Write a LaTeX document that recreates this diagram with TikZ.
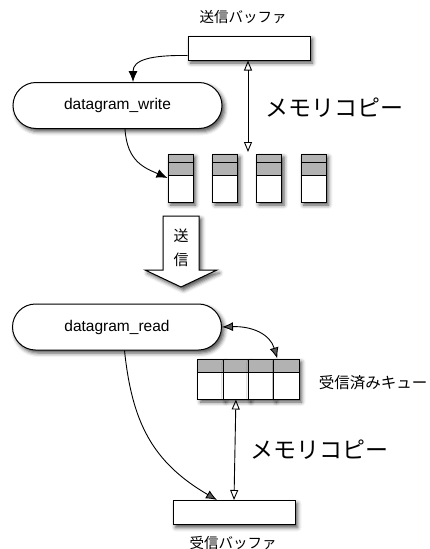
\documentclass[tikz,border=0pt]{standalone}
\usepackage{fontspec}
\setmainfont{Liberation Sans}
\newfontfamily\jp{Noto Sans CJK JP}
\usetikzlibrary{arrows.meta,shadows.blur}

\begin{document}
\begin{tikzpicture}[x=1pt,y=-1pt,
  softshadow/.style={blur shadow={shadow xshift=2.5pt,shadow yshift=-3pt,
      shadow blur radius=4pt,shadow opacity=70}},
  box/.style={draw,line width=1pt,fill=white,softshadow,inner sep=0pt},
  buffer/.style={box,minimum width=122pt,minimum height=24pt},
  pill/.style={box,minimum width=209pt,minimum height=46pt,rounded corners=23pt,
      font=\fontsize{15.5}{18}\selectfont},
  stackbox/.style={box,minimum width=25pt,minimum height=48pt,
      path picture={
        \fill[gray!60] (path picture bounding box.north west) rectangle
             ([yshift=-21pt]path picture bounding box.north east);
        \draw[line width=0.9pt] ([yshift=-8pt]path picture bounding box.north west) --
             ([yshift=-8pt]path picture bounding box.north east);
        \draw[line width=0.9pt] ([yshift=-21pt]path picture bounding box.north west) --
             ([yshift=-21pt]path picture bounding box.north east);}},
  cell/.style={box,minimum width=25.25pt,minimum height=40pt,
      path picture={
        \fill[gray!60] (path picture bounding box.north west) rectangle
             ([yshift=-13pt]path picture bounding box.north east);
        \draw[line width=0.9pt] ([yshift=-13pt]path picture bounding box.north west) --
             ([yshift=-13pt]path picture bounding box.north east);}},
  small/.style={font=\jp\fontsize{14.5}{17}\selectfont,inner sep=0pt},
  big/.style={font=\jp\fontsize{23}{26}\selectfont,inner sep=0pt},
  flow/.style={line width=0.9pt,-{Latex[length=11pt,width=9pt]}},
  both/.style={line width=0.9pt,{Latex[length=11pt,width=9pt]}-{Latex[length=11pt,width=9pt]}},
  copy/.style={line width=0.9pt,{Triangle[open,length=10pt,width=8pt]}-{Triangle[open,length=10pt,width=8pt]}}
]
\useasboundingbox (0,0) rectangle (429,549);

% send side
\node[buffer] (sb) at (249,48) {};
\node[small] (sblabel) at (243,17) {送信バッファ};
\node[pill] (dw) at (117.5,105.5) {datagram\_write};
\node[big] (copy1) at (334,108) {メモリコピー};

\node[stackbox] (s1) at (180.5,178) {};
\node[stackbox] (s2) at (225,178) {};
\node[stackbox] (s3) at (269,178) {};
\node[stackbox] (s4) at (313.5,178) {};
\coordinate (gap) at (248,152);

\draw[flow] ([yshift=5pt]sb.south west) .. controls (150,55) and (133,60) .. ([xshift=15.5pt]dw.north);
\draw[flow] ([xshift=7.5pt]dw.south) .. controls (127,162) and (145,168) .. (s1.west);
\draw[copy] ([xshift=-1pt]sb.south) -- (gap);

% transmission arrow
\path[draw,line width=1pt,fill=white,softshadow]
  (163,216) -- (199,216) -- (199,270) -- (217,270) -- (181,287) -- (145,270) -- (163,270) -- cycle;
\node[font=\jp\fontsize{15}{18}\selectfont,inner sep=0pt] (send1) at (181,236) {送};
\node[font=\jp\fontsize{15}{18}\selectfont,inner sep=0pt] (send2) at (181,260) {信};

% receive side
\node[pill] (dr) at (117,327) {datagram\_read};
\node[cell] (q1) at (210.6,379) {};
\node[cell] (q2) at (235.9,379) {};
\node[cell] (q3) at (261.1,379) {};
\node[cell] (q4) at (286.4,379) {};
\node[font=\jp\fontsize{15.5}{18}\selectfont,inner sep=0pt] (qlabel) at (373,383) {受信済みキュー};
\node[big] (copy2) at (319,450) {メモリコピー};
\node[buffer] (rb) at (234,512.5) {};
\node[small] (rblabel) at (233,543) {受信バッファ};

\draw[both] (dr.east) .. controls (252,326) and (270,334) .. ([xshift=4pt]q4.north west);
\draw[copy] (q2.south) -- (rb.north);
\draw[flow] ([xshift=7.5pt]dr.south) .. controls (132,422) and (152,462) .. ([xshift=-17pt]rb.north);
\end{tikzpicture}
\end{document}
